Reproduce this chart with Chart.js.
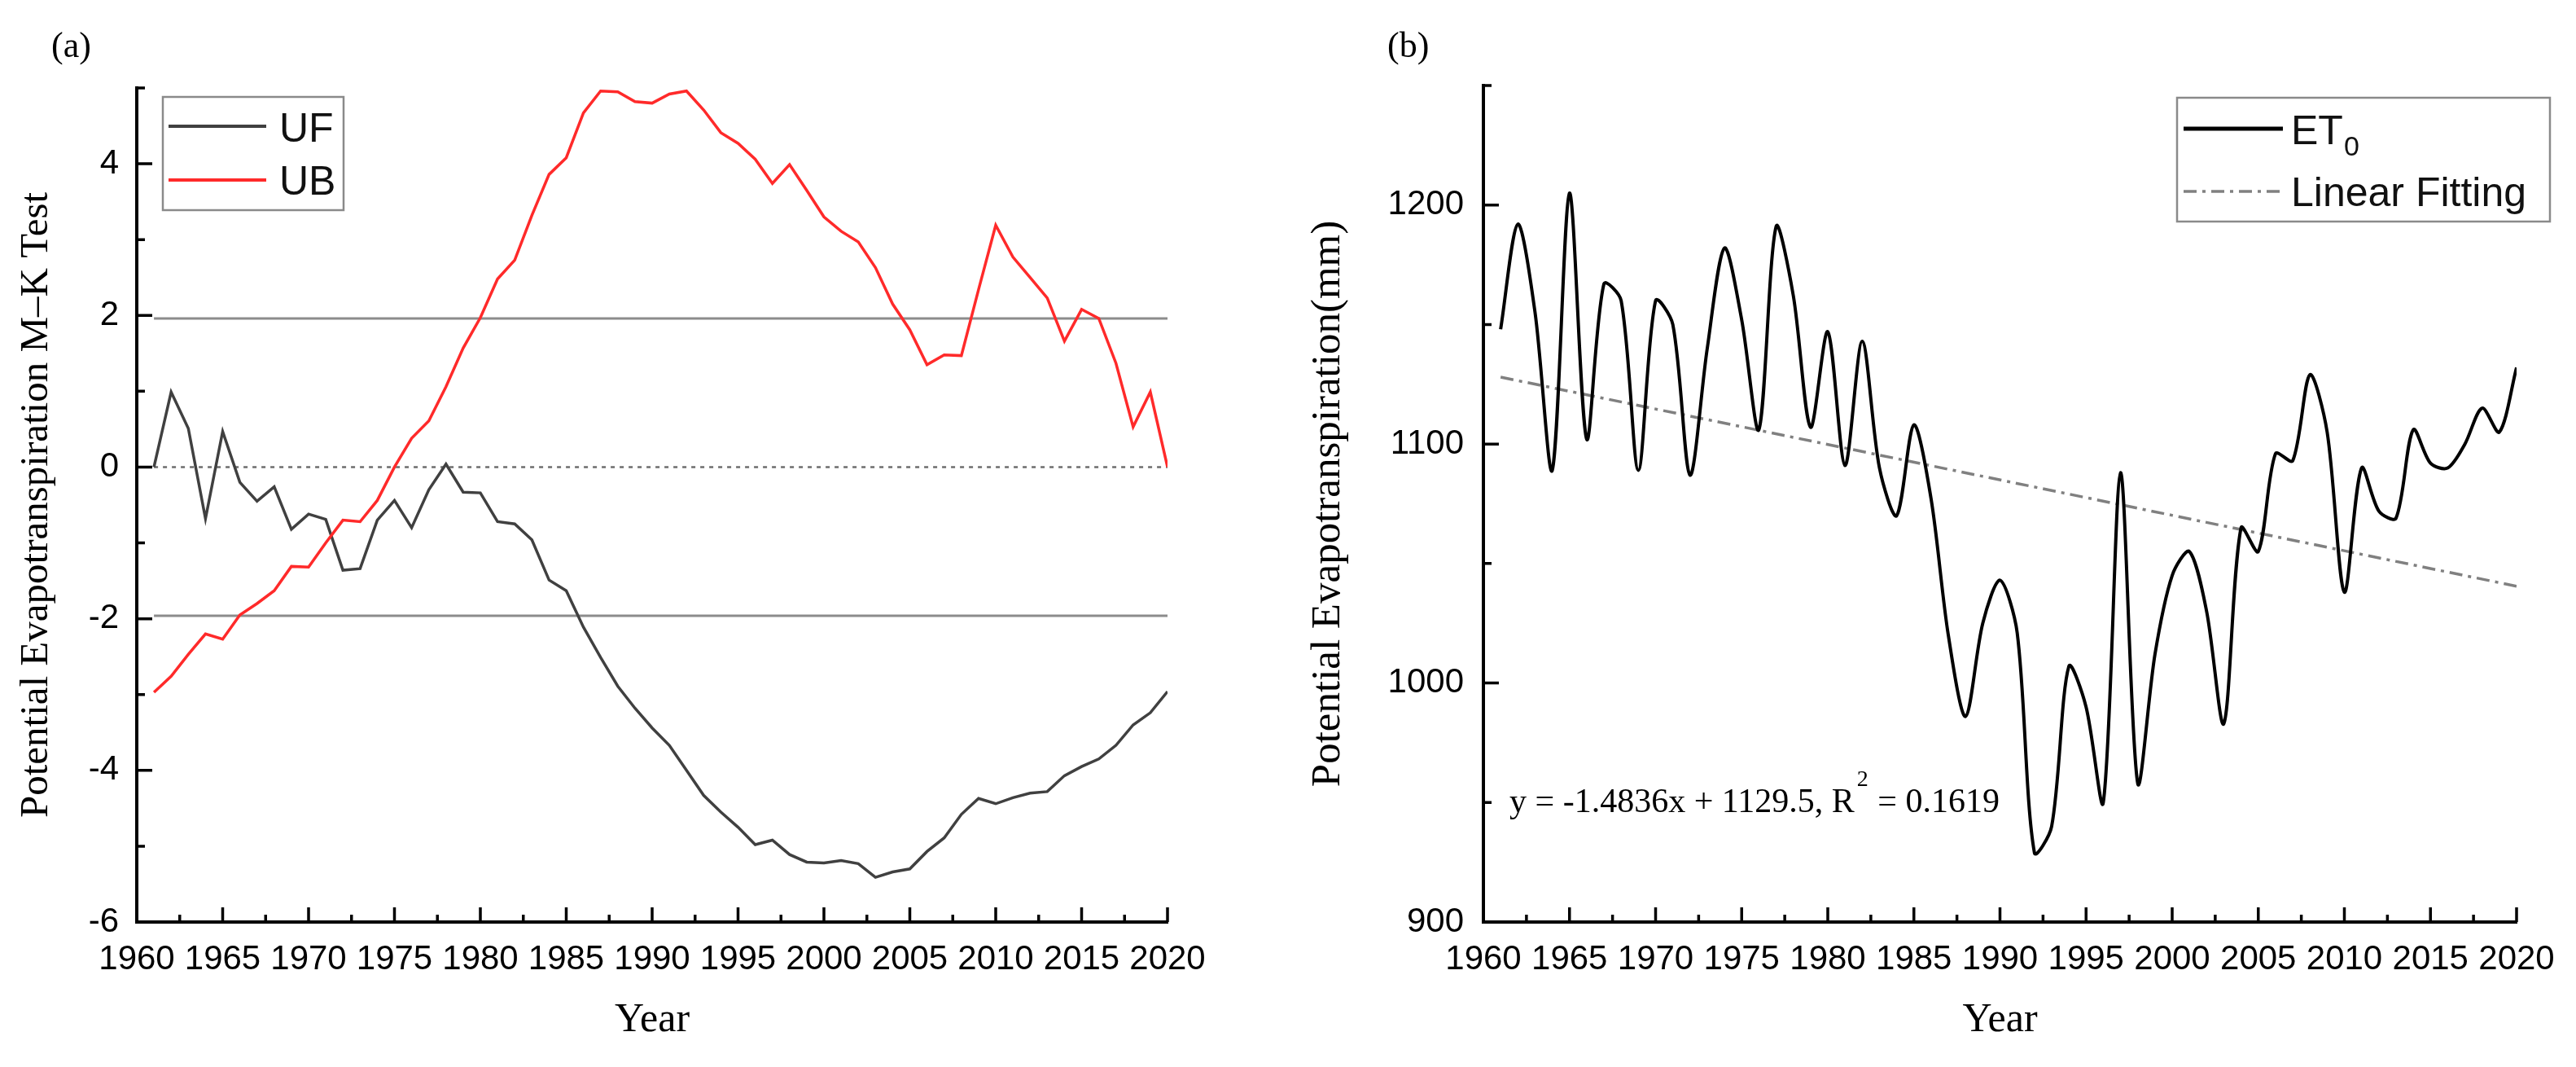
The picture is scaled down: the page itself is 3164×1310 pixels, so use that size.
<!DOCTYPE html>
<html>
<head>
<meta charset="utf-8">
<script src="https://cdn.jsdelivr.net/npm/chart.js@4.4.1/dist/chart.umd.min.js"></script>
<style>
  body { margin: 0; background: #fff; }
  .panel { position: absolute; top: 0; width: 1582px; height: 1310px; }
  #panelA { left: 0; }
  #panelB { left: 1582px; }
</style>
</head>
<body>
<div class="panel" id="panelA"><canvas id="chartA" width="1582" height="1310"></canvas></div>
<div class="panel" id="panelB"><canvas id="chartB" width="1582" height="1310"></canvas></div>
<script>
const years = [1961, 1962, 1963, 1964, 1965, 1966, 1967, 1968, 1969, 1970,
               1971, 1972, 1973, 1974, 1975, 1976, 1977, 1978, 1979, 1980,
               1981, 1982, 1983, 1984, 1985, 1986, 1987, 1988, 1989, 1990,
               1991, 1992, 1993, 1994, 1995, 1996, 1997, 1998, 1999, 2000,
               2001, 2002, 2003, 2004, 2005, 2006, 2007, 2008, 2009, 2010,
               2011, 2012, 2013, 2014, 2015, 2016, 2017, 2018, 2019, 2020];

// (a) M-K test statistics
const ufValues = [0.00, 0.99, 0.51, -0.68, 0.47, -0.20, -0.45, -0.26, -0.82, -0.62,
                  -0.69, -1.36, -1.34, -0.70, -0.44, -0.80, -0.30, 0.04, -0.33, -0.34,
                  -0.72, -0.75, -0.96, -1.49, -1.63, -2.11, -2.51, -2.89, -3.18, -3.44,
                  -3.67, -4.00, -4.33, -4.55, -4.75, -4.98, -4.92, -5.11, -5.21, -5.22,
                  -5.19, -5.23, -5.41, -5.34, -5.30, -5.07, -4.89, -4.58, -4.37, -4.44,
                  -4.36, -4.30, -4.28, -4.07, -3.95, -3.85, -3.67, -3.40, -3.24, -2.96];
const ubValues = [-2.97, -2.76, -2.47, -2.20, -2.27, -1.95, -1.80, -1.63, -1.31, -1.32,
                  -1.00, -0.70, -0.72, -0.44, 0.00, 0.38, 0.61, 1.06, 1.57, 1.97,
                  2.48, 2.73, 3.32, 3.86, 4.08, 4.67, 4.96, 4.95, 4.82, 4.80,
                  4.92, 4.96, 4.71, 4.41, 4.27, 4.06, 3.74, 3.99, 3.65, 3.30,
                  3.11, 2.97, 2.63, 2.15, 1.81, 1.35, 1.48, 1.47, 2.34, 3.19,
                  2.77, 2.50, 2.23, 1.66, 2.08, 1.96, 1.37, 0.53, 0.99, 0.00];
const refYears = [1961, 2020];
const upperLimit = [1.96, 1.96];
const zeroLine = [0, 0];
const lowerLimit = [-1.96, -1.96];

// (b) ET0 (mm) and its linear fit
const et0Values = [1148, 1192, 1155, 1089, 1205, 1102, 1167, 1160, 1089, 1160,
                   1150, 1087, 1140, 1182, 1152, 1106, 1191, 1162, 1107, 1147,
                   1091, 1143, 1090, 1070, 1108, 1077, 1020, 986, 1025, 1043,
                   1021, 929, 940, 1007, 990, 950, 1088, 958, 1012, 1045,
                   1055, 1030, 983, 1065, 1055, 1096, 1093, 1129, 1105, 1038,
                   1090, 1072, 1069, 1106, 1092, 1090, 1100, 1115, 1105, 1132];
const fitYears = [1961, 2020];
const fitValues = [1128.0, 1040.5];

// ticks
const yearTicks = [1960, 1965, 1970, 1975, 1980, 1985, 1990, 1995, 2000, 2005, 2010, 2015, 2020];
const yearMinorTicks = [1962.5, 1967.5, 1972.5, 1977.5, 1982.5, 1987.5, 1992.5, 1997.5, 2002.5, 2007.5, 2012.5, 2017.5];
const mkTicks = [-6, -4, -2, 0, 2, 4];
const mkMinorTicks = [-5, -3, -1, 1, 3, 5];
const etTicks = [900, 1000, 1100, 1200];
const etMinorTicks = [950, 1050, 1150, 1250];

const SANS = '"Liberation Sans", Arial, sans-serif';
const SERIF = '"Liberation Serif", "Times New Roman", serif';

function pts(xs, ys) {
    return xs.map((x, i) => ({ x: x, y: ys[i] }));
}

// ticks pointing into the plot, like the original figure
function drawInnerTicks(chart, xMajor, xMinor, yMajor, yMinor) {
    const ctx = chart.ctx;
    const a = chart.chartArea;
    const x = chart.scales.x;
    const y = chart.scales.y;
    ctx.save();
    ctx.strokeStyle = '#000';
    ctx.lineWidth = 3.5;
    ctx.beginPath();
    xMajor.forEach(v => { const p = x.getPixelForValue(v); ctx.moveTo(p, a.bottom); ctx.lineTo(p, a.bottom - 18); });
    xMinor.forEach(v => { const p = x.getPixelForValue(v); ctx.moveTo(p, a.bottom); ctx.lineTo(p, a.bottom - 9); });
    yMajor.forEach(v => { const p = y.getPixelForValue(v); ctx.moveTo(a.left, p); ctx.lineTo(a.left + 19, p); });
    yMinor.forEach(v => { const p = y.getPixelForValue(v); ctx.moveTo(a.left, p); ctx.lineTo(a.left + 10, p); });
    ctx.stroke();
    ctx.restore();
}

function legendLine(ctx, x1, x2, y, color, width, dash) {
    ctx.save();
    ctx.strokeStyle = color;
    ctx.lineWidth = width;
    ctx.setLineDash(dash || []);
    ctx.beginPath();
    ctx.moveTo(x1, y);
    ctx.lineTo(x2, y);
    ctx.stroke();
    ctx.restore();
}

const decorA = {
    id: 'decorA',
    afterDraw(chart) {
        const ctx = chart.ctx;
        drawInnerTicks(chart, yearTicks, yearMinorTicks, mkTicks, mkMinorTicks);
        ctx.save();
        ctx.fillStyle = '#000';
        ctx.textBaseline = 'alphabetic';
        ctx.font = '44px ' + SERIF;
        ctx.fillText('(a)', 63, 70);

        ctx.strokeStyle = '#8a8a8a';
        ctx.lineWidth = 2.5;
        ctx.strokeRect(200, 119, 222, 139);
        legendLine(ctx, 207, 327, 155, '#404040', 4);
        legendLine(ctx, 207, 327, 221, '#ff2a2a', 4);
        ctx.fillStyle = '#111';
        ctx.font = '50px ' + SANS;
        ctx.fillText('UF', 343, 174);
        ctx.fillText('UB', 343, 239);
        ctx.restore();
    }
};

const decorB = {
    id: 'decorB',
    afterDraw(chart) {
        const ctx = chart.ctx;
        drawInnerTicks(chart, yearTicks, yearMinorTicks, etTicks, etMinorTicks);
        ctx.save();
        ctx.fillStyle = '#000';
        ctx.textBaseline = 'alphabetic';
        ctx.font = '44px ' + SERIF;
        ctx.fillText('(b)', 122, 70);

        // legend
        ctx.strokeStyle = '#8a8a8a';
        ctx.lineWidth = 2.5;
        ctx.strokeRect(1092, 120, 458, 152);
        legendLine(ctx, 1100, 1222, 158, '#000', 5);
        legendLine(ctx, 1100, 1222, 235, '#808080', 3.5, [16, 7, 4, 7]);
        ctx.fillStyle = '#111';
        ctx.font = '50px ' + SANS;
        ctx.fillText('ET', 1232, 177);
        const etW = ctx.measureText('ET').width;
        ctx.fillText('Linear Fitting', 1232, 253);
        ctx.font = '34px ' + SANS;
        ctx.fillText('0', 1232 + etW + 1, 191);

        // fit equation
        ctx.fillStyle = '#000';
        ctx.font = '42px ' + SERIF;
        let x = 272;
        const base = 997;
        const s1 = 'y = -1.4836x + 1129.5, R';
        ctx.fillText(s1, x, base);
        x += ctx.measureText(s1).width;
        ctx.font = '28px ' + SERIF;
        ctx.fillText('2', x + 3, base - 32);
        x += ctx.measureText('2').width + 4;
        ctx.font = '42px ' + SERIF;
        ctx.fillText(' = 0.1619', x, base);
        ctx.restore();
    }
};

function xScale(titlePad) {
    return {
        type: 'linear',
        min: 1960,
        max: 2020,
        afterBuildTicks: s => { s.ticks = yearTicks.map(v => ({ value: v })); },
        afterFit: s => { s.height = 178; },
        grid: { display: false, drawTicks: false },
        border: { display: true, color: '#000', width: 4 },
        ticks: {
            color: '#000',
            font: { family: SANS, size: 42 },
            padding: 21,
            maxRotation: 0,
            autoSkip: false,
            callback: v => String(v)
        },
        title: {
            display: true,
            text: 'Year',
            color: '#000',
            font: { family: SERIF, size: 50 },
            padding: { top: 0, bottom: titlePad }
        }
    };
}

const chartA = new Chart(document.getElementById('chartA'), {
    type: 'line',
    data: {
        datasets: [
            { label: 'UB', data: pts(years, ubValues), borderColor: '#ff2a2a', borderWidth: 3.5, tension: 0 },
            { label: 'UF', data: pts(years, ufValues), borderColor: '#404040', borderWidth: 3.5, tension: 0 },
            { label: 'upper', data: pts(refYears, upperLimit), borderColor: '#8c8c8c', borderWidth: 3 },
            { label: 'zero', data: pts(refYears, zeroLine), borderColor: '#6e6e6e', borderWidth: 2.5, borderDash: [5, 6] },
            { label: 'lower', data: pts(refYears, lowerLimit), borderColor: '#8c8c8c', borderWidth: 3 }
        ]
    },
    options: {
        responsive: false,
        animation: false,
        devicePixelRatio: 1,
        layout: { padding: { top: 108, right: 148, bottom: 0, left: 0 } },
        plugins: { legend: { display: false }, tooltip: { enabled: false } },
        elements: { point: { radius: 0 } },
        scales: {
            x: xScale(27),
            y: {
                min: -6,
                max: 5,
                afterBuildTicks: s => { s.ticks = mkTicks.map(v => ({ value: v })); },
                afterFit: s => { s.width = 168; },
                grid: { display: false, drawTicks: false },
                border: { display: true, color: '#000', width: 4 },
                ticks: { color: '#000', font: { family: SANS, size: 42 }, padding: 22, callback: v => String(v) },
                title: {
                    display: true,
                    text: 'Potential Evapotranspiration M\u2013K Test',
                    color: '#000',
                    font: { family: SERIF, size: 49 },
                    padding: { top: 16, bottom: 0 }
                }
            }
        }
    },
    plugins: [decorA]
});

const chartB = new Chart(document.getElementById('chartB'), {
    type: 'line',
    data: {
        datasets: [
            { label: 'ET0', data: pts(years, et0Values), borderColor: '#000', borderWidth: 4, tension: 0.3 },
            { label: 'Linear Fitting', data: pts(fitYears, fitValues), borderColor: '#808080', borderWidth: 3.5, borderDash: [16, 7, 4, 7] }
        ]
    },
    options: {
        responsive: false,
        animation: false,
        devicePixelRatio: 1,
        layout: { padding: { top: 105, right: 73, bottom: 0, left: 0 } },
        plugins: { legend: { display: false }, tooltip: { enabled: false } },
        elements: { point: { radius: 0 } },
        scales: {
            x: xScale(27),
            y: {
                min: 900,
                max: 1250,
                afterBuildTicks: s => { s.ticks = etTicks.map(v => ({ value: v })); },
                afterFit: s => { s.width = 240; },
                grid: { display: false, drawTicks: false },
                border: { display: true, color: '#000', width: 4 },
                ticks: { color: '#000', font: { family: SANS, size: 42 }, padding: 24, callback: v => String(v) },
                title: {
                    display: true,
                    text: 'Potential Evapotranspiration(mm)',
                    color: '#000',
                    font: { family: SERIF, size: 51 },
                    padding: { top: 19, bottom: 0 }
                }
            }
        }
    },
    plugins: [decorB]
});
</script>
</body>
</html>
